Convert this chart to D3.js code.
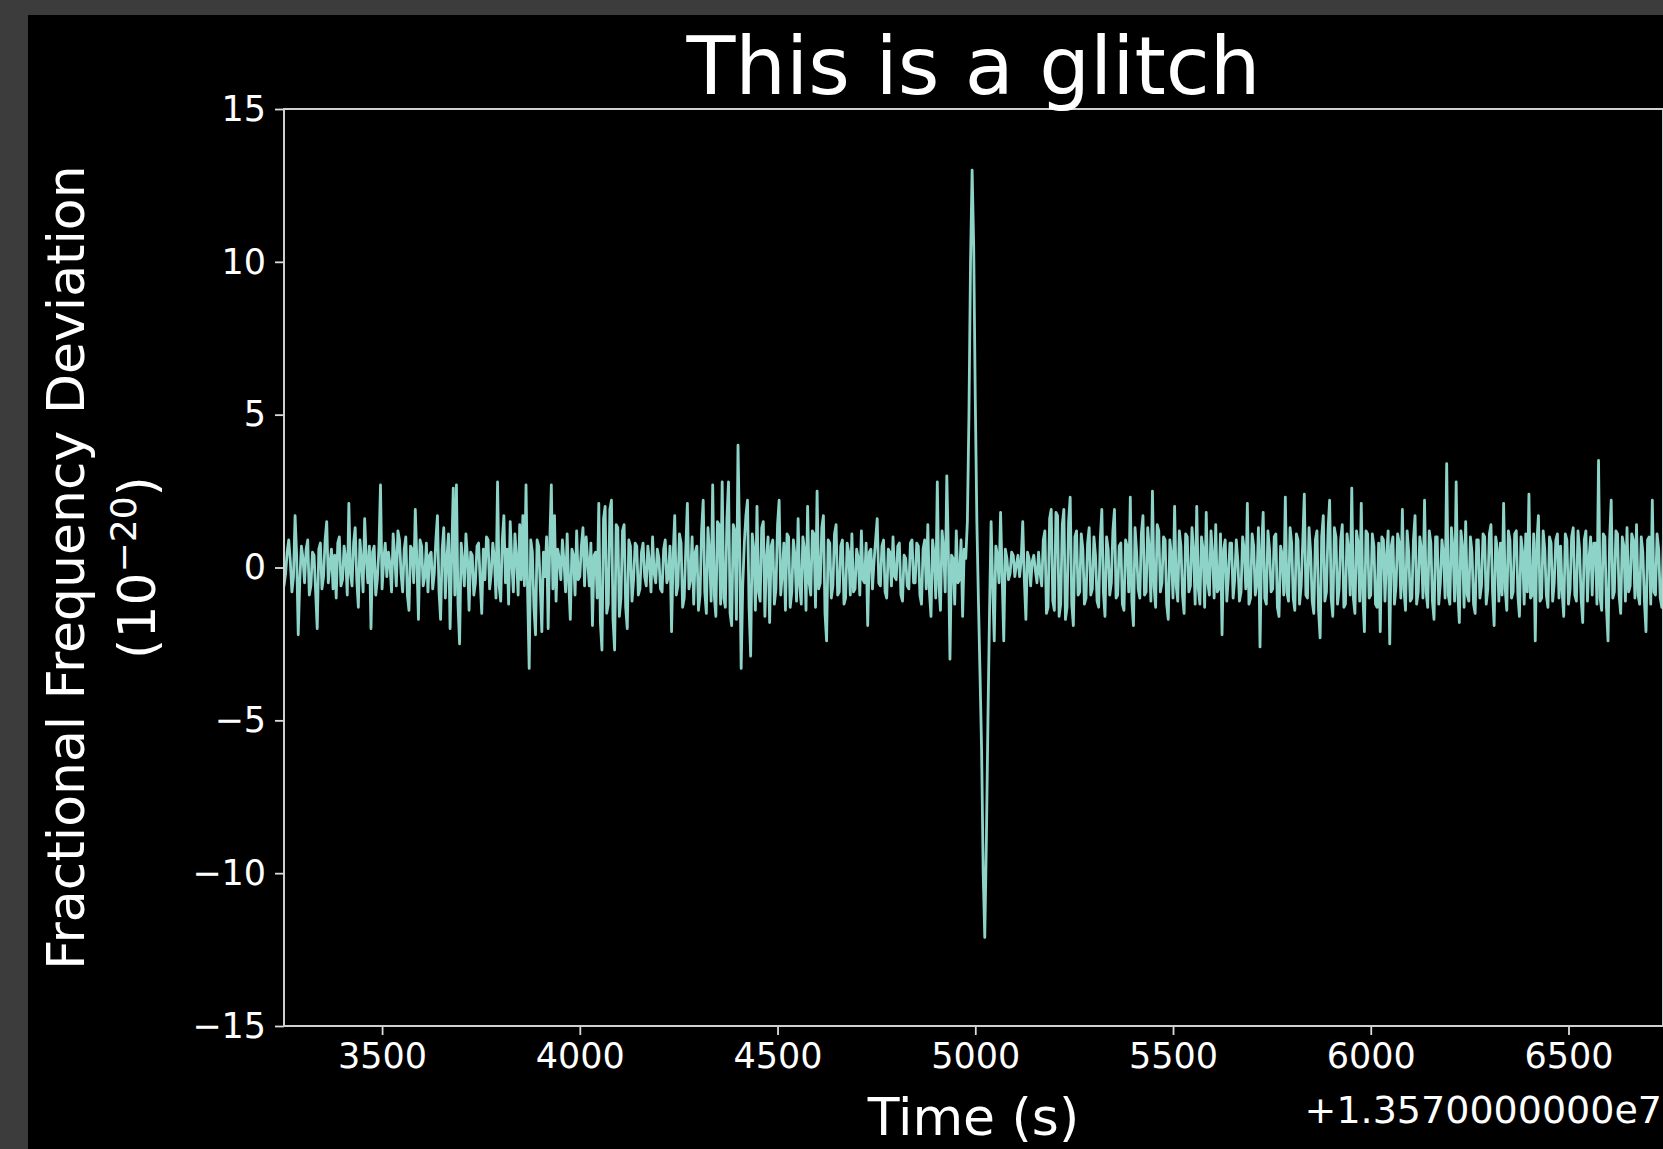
<!DOCTYPE html>
<html>
<head>
<meta charset="utf-8">
<script src="https://cdn.jsdelivr.net/npm/d3@7"></script>
<style>
  body { margin: 0; background: #3c3c3c; overflow: hidden; }
  text { font-family: "DejaVu Sans", sans-serif; fill: #ffffff; }
</style>
</head>
<body>
<svg id="chart" width="1663" height="1149"></svg>
<script>
// time series: first sample time and spacing (s, offset from 1.357e7)
var startTime = 3248;
var sampleStep = 4;

// fractional frequency deviation, units of 1e-20
var deviation = [
  1.6, -0.6, -0.2, 0.5, 0.9, 0.2, -0.8, -0.3, 1.7, 0.4, -2.2, -0.4, 0.7, 0.3, -0.5, 0.6, 0.9, -0.9, -0.6, 0.5,
  0.4, -0.8, -2.0, 0.6, 0.8, -0.7, -0.3, 0.9, 1.5, -0.5, 0.1, 0.6, -0.7, 0.4, -1.0, 0.8, 1.0, -0.6, -0.4, 0.7,
  0.3, -0.9, 2.1, -0.2, -0.6, 0.8, 1.3, -0.4, -1.3, 0.9, 0.2, -0.8, 1.6, 0.3, -0.5, 0.7, -2.0, 0.5, 0.7, -0.9,
  -0.4, 0.6, 2.7, -0.7, 0.2, 0.8, -0.3, 0.5, 0.1, -0.8, 1.1, 0.4, -0.6, 1.2, 0.9, -0.2, -0.8, 0.6, 1.0, -0.9,
  -1.4, 0.7, 0.6, -0.5, 1.9, 0.2, -1.7, 0.9, 0.7, -0.6, -0.3, 0.8, -0.8, 0.4, 0.5, -0.7, -0.2, 0.9, 1.7, -0.8,
  -1.7, 0.6, 1.3, -1.0, 0.3, 1.1, -2.0, 0.4, 2.6, -0.9, 2.7, -1.2, -2.5, 0.8, 0.2, -0.6, 1.1, 0.3, -1.4, 0.5,
  0.4, -0.9, -0.5, 0.7, 0.8, -0.4, -1.5, 0.6, -0.4, 1.0, 0.9, -0.7, -0.2, 0.8, 0.3, -1.0, 2.8, -0.6, -1.1, 0.9,
  1.7, -0.5, 0.6, -1.2, 1.5, 0.2, -0.8, 1.1, 0.3, -0.9, 1.4, -0.4, 1.7, -0.6, 2.7, -0.8, -3.3, 0.9, 0.5, -1.3,
  -2.2, 0.9, 0.7, -0.6, -2.1, 0.5, -0.3, 1.0, -2.0, 0.8, 2.7, -0.7, 1.7, -1.1, 0.6, 0.3, -0.4, 0.9, 0.2, -0.8,
  1.1, -0.5, -1.7, 0.6, 0.4, -0.9, 1.2, -0.4, -0.3, 0.7, 1.3, -0.6, 1.0, 0.2, -0.6, 0.8, -1.9, 0.4, 0.5, -1.0,
  2.1, -1.8, -2.7, 1.6, 2.0, -1.5, -1.2, 1.9, 2.2, -1.7, -2.7, 1.4, 1.3, -1.6, -1.0, 1.2, 1.4, -1.3, -2.0, 0.9,
  0.7, -1.1, -0.4, 0.8, 0.7, -0.9, -0.7, 0.5, 0.8, -0.3, -0.6, 0.7, 0.2, -0.8, 1.0, -0.2, -0.5, 0.6, 0.3, -0.7,
  -0.8, 0.6, 0.9, -0.5, -0.3, 0.7, -2.1, 0.4, 1.7, -0.9, -0.6, 1.1, 0.8, -1.3, -1.0, 0.6, 2.1, -0.7, -0.4, 1.0,
  -1.2, 0.5, 0.7, -1.4, -0.9, 1.2, 2.2, -0.8, -1.5, 1.3, 0.5, -1.1, 2.7, -0.9, -1.6, 1.5, 1.4, -1.2, 2.8, -1.0,
  -1.3, 1.6, 2.8, -1.5, -1.9, 1.4, 1.2, -1.7, 4.0, 0.9, -3.3, -0.6, 0.8, 1.7, 2.2, -1.3, -2.9, 1.1, 0.6, -1.4,
  2.0, -0.8, -1.1, 1.3, 1.5, -1.6, 0.3, 1.0, -1.8, 0.7, 0.9, -1.2, -0.7, 1.4, 2.2, -0.9, -0.2, 0.8, -1.4, 1.1,
  1.0, -1.3, -0.8, 0.9, 0.4, -1.1, 1.6, -0.6, -1.2, 1.0, 0.6, -1.4, 2.0, -0.5, -0.9, 1.2, 1.1, -1.3, 2.5, -0.7,
  -0.5, 1.3, 1.7, -1.5, -2.4, 0.9, 0.8, -1.0, -0.6, 1.1, 1.4, -0.9, -0.8, 0.7, 0.9, -1.2, -1.0, 0.8, 0.5, -0.9,
  1.1, -0.8, -0.7, 0.6, 0.3, -0.9, 1.2, -0.4, -0.5, 0.8, -1.9, 0.5, 0.6, -0.7, 0.2, 0.9, 1.6, -0.5, -0.6, 0.7,
  0.9, -0.8, -1.0, 0.6, 0.5, -0.6, 1.0, -0.3, -0.4, 0.7, 0.8, -0.9, -1.1, 0.4, 0.3, -0.6, -0.7, 0.8, 0.9, -0.5,
  -0.5, 0.8, 0.7, -0.9, -1.2, 0.6, 0.9, -0.7, 1.4, -0.8, -1.6, 0.9, 0.4, -1.0, 2.8, -0.6, -1.4, 1.2, 0.6, -0.8,
  3.0, 0.5, -3.0, 0.4, 0.3, -1.2, 1.2, -0.5, -0.4, 0.9, -1.6, 0.6, 0.3, 1.5, 5.0, 10.0, 13.0, 10.5, 5.5, 1.5,
  -1.1, -3.5, -6.0, -10.0, -12.1, -9.0, -5.0, -1.5, 1.5, -0.6, -2.4, 0.7, 0.4, -0.5, 1.8, -0.3, -2.4, 0.6, 0.3, -0.4,
  -0.2, 0.5, 0.4, -0.3, 0.1, 0.4, -0.3, 0.2, 1.5, -0.4, -1.7, 0.5, 0.3, -0.6, 0.2, 0.4, -0.1, -0.5, 0.5, -0.2,
  -0.6, 0.9, 1.2, -1.5, -1.3, 1.6, 1.9, -1.1, -1.4, 1.8, 1.7, -1.6, -1.2, 1.4, 1.9, -1.7, -1.3, 1.5, 2.3, -1.2,
  -1.9, 1.0, 1.2, -0.9, -0.8, 1.1, 0.6, -1.2, -1.0, 0.8, 1.3, -0.9, -0.7, 1.0, 0.4, -1.1, -1.3, 0.9, 1.9, -0.8,
  -1.6, 1.0, 0.6, -0.9, -0.5, 1.2, 1.9, -1.0, -0.9, 0.7, 0.8, -1.2, -1.4, 0.9, 0.7, -0.8, 2.3, -1.1, -1.9, 1.3,
  0.5, -0.7, -1.0, 1.1, 1.7, -0.9, -0.8, 1.3, 0.6, -1.1, 2.5, -0.6, -1.3, 1.4, 1.2, -0.8, -0.5, 1.0, 0.9, -1.2,
  -1.7, 0.9, 0.4, -1.0, 2.0, -0.6, -1.1, 1.2, 0.7, -0.9, -1.5, 1.1, 1.0, -0.8, -0.6, 1.3, 0.5, -1.2, 2.0, -0.7,
  -1.2, 1.0, 0.6, -1.3, 1.8, -0.5, -0.9, 1.2, 0.4, -1.0, 1.4, -0.8, -0.7, 1.1, -2.2, 0.6, 0.9, -1.1, -0.3, 0.8,
  0.8, -1.0, -0.4, 0.9, 0.2, -1.1, -0.8, 1.0, 0.6, -0.7, 2.1, -1.2, -1.0, 1.1, 0.7, -0.9, -0.5, 1.3, -2.6, 0.6,
  1.8, -1.0, -1.2, 1.2, 0.6, -0.8, -0.7, 1.0, 1.1, -1.3, -1.6, 0.7, 0.4, -0.9, 2.3, -0.8, -1.1, 1.3, 0.8, -1.0,
  -1.4, 1.1, 0.9, -1.2, -0.6, 0.8, 2.4, -0.9, -1.0, 1.3, 0.5, -1.1, -1.5, 0.9, 1.2, -1.4, -2.3, 1.0, 1.7, -1.1,
  -0.8, 1.2, 2.2, -1.0, -1.6, 1.3, 1.0, -1.2, -0.7, 0.9, 1.4, -1.3, -1.2, 1.1, 0.6, -0.9, 2.6, -1.0, -1.5, 1.2,
  0.8, -1.1, 2.1, -0.9, -2.1, 1.2, 1.1, -1.0, -0.9, 1.1, 0.7, -1.2, -1.3, 0.8, -2.1, 1.0, 0.9, -1.1, 0.4, 1.2,
  -2.5, 0.7, 1.0, -1.2, -0.6, 1.1, 0.8, -1.0, 1.9, -0.7, -1.4, 1.2, 0.5, -1.1, -1.0, 0.9, 1.7, -1.2, -0.8, 1.0,
  0.6, -1.0, 2.2, -0.8, -1.3, 1.2, 0.8, -1.1, -1.7, 1.0, 1.0, -1.2, -0.5, 0.9, 0.4, -1.0, 3.4, -0.9, -1.2, 1.3,
  0.6, -1.1, 2.8, -0.8, -1.8, 1.2, 0.7, -1.3, 1.5, -0.9, -1.1, 1.0, 0.5, -1.2, -1.5, 0.9, 0.9, -1.0, -0.6, 1.1,
  1.0, -1.2, -0.7, 1.1, 1.4, -0.8, -1.9, 1.0, 0.6, -1.1, 0.8, -0.9, 2.1, -0.7, -1.4, 1.2, 0.9, -1.0, -0.8, 1.1,
  1.2, -0.9, -1.6, 1.0, 0.5, -1.2, 1.1, -0.8, 2.4, -1.0, -0.9, 1.1, -2.4, 0.8, 1.7, -1.1, -1.0, 1.2, 0.6, -0.9,
  -1.3, 1.0, 0.8, -1.1, -0.5, 0.9, 1.1, -1.0, 0.7, -0.8, -1.6, 1.1, 0.9, -1.2, -0.7, 1.0, 1.3, -0.9, -1.1, 1.2,
  0.6, -1.0, -1.8, 0.9, 1.2, -1.1, 0.3, 1.0, -0.9, 0.8, 0.8, -1.2, 3.5, -1.0, -1.4, 1.1, 1.0, -1.3, -2.4, 0.9,
  2.2, -1.0, -0.8, 1.2, 1.1, -0.9, -1.5, 1.0, 0.7, -1.1, 1.3, -0.8, -0.6, 1.1, 0.9, -1.0, 1.4, -0.9, -1.2, 1.0,
  0.5, -1.1, -2.1, 0.9, 1.0, -1.2, 2.2, -0.8, -0.9, 1.1, 0.6, -1.0, -1.3, 0.9, 0.8, -1.1
];

var xTicks = [3500, 4000, 4500, 5000, 5500, 6000, 6500];
var yTicks = [-15, -10, -5, 0, 5, 10, 15];
var xDomain = [3252, 6739];
var yDomain = [-15, 15];

var titleText = "This is a glitch";
var xLabel = "Time (s)";
var yLabel = "Fractional Frequency Deviation";
var offsetText = "+1.3570000000e7";

var points = deviation.map(function (v, i) {
  return { t: startTime + i * sampleStep, v: v };
});

const svg = d3.select("#chart");
var plotLeft = 284, plotRight = 1663, plotTop = 109, plotBottom = 1026;

// black figure area on the grey backdrop
svg.append("rect")
  .attr("x", 28).attr("y", 15)
  .attr("width", 1663 - 28).attr("height", 1149 - 15)
  .attr("fill", "#000000");

var x = d3.scaleLinear().domain(xDomain).range([plotLeft, plotRight]);
var y = d3.scaleLinear().domain(yDomain).range([plotBottom, plotTop]);

svg.append("clipPath").attr("id", "plotClip")
  .append("rect")
  .attr("x", plotLeft).attr("y", plotTop)
  .attr("width", plotRight - plotLeft).attr("height", plotBottom - plotTop);

var line = d3.line()
  .x(function (d) { return x(d.t); })
  .y(function (d) { return y(d.v); });

svg.append("path")
  .datum(points)
  .attr("clip-path", "url(#plotClip)")
  .attr("fill", "none")
  .attr("stroke", "#8dd3c7")
  .attr("stroke-width", 2.8)
  .attr("stroke-linejoin", "round")
  .attr("d", line);

// axes
var xAxis = svg.append("g")
  .attr("transform", "translate(0," + plotBottom + ")")
  .call(d3.axisBottom(x).tickValues(xTicks).tickFormat(d3.format("d")).tickSize(9).tickPadding(8));
var yAxis = svg.append("g")
  .attr("transform", "translate(" + plotLeft + ",0)")
  .call(d3.axisLeft(y).tickValues(yTicks).tickFormat(d3.format("d")).tickSize(9).tickPadding(9));

[xAxis, yAxis].forEach(function (g) {
  g.select(".domain").remove();
  g.selectAll(".tick line").attr("stroke", "#dcdcdc").attr("stroke-width", 1.8);
  g.selectAll(".tick text")
    .attr("fill", "#f0f0f0")
    .style("font-family", "DejaVu Sans")
    .style("font-size", "35px");
});
xAxis.selectAll(".tick text").attr("dy", "0.71em");

// spines
svg.append("rect")
  .attr("x", plotLeft).attr("y", plotTop)
  .attr("width", plotRight - plotLeft).attr("height", plotBottom - plotTop)
  .attr("fill", "none")
  .attr("stroke", "#d0d0d0")
  .attr("stroke-width", 2);

// title
svg.append("text")
  .attr("x", (plotLeft + plotRight) / 2).attr("y", 94)
  .attr("text-anchor", "middle")
  .style("font-size", "80px")
  .text(titleText);

// x label + offset text
svg.append("text")
  .attr("x", (plotLeft + plotRight) / 2).attr("y", 1135)
  .attr("text-anchor", "middle")
  .style("font-size", "52px")
  .text(xLabel);
svg.append("text")
  .attr("x", 1662).attr("y", 1123)
  .attr("text-anchor", "end")
  .style("font-size", "38px")
  .text(offsetText);

// y label, two lines, rotated
var midY = (plotTop + plotBottom) / 2;
svg.append("text")
  .attr("transform", "translate(84," + midY + ") rotate(-90)")
  .attr("text-anchor", "middle")
  .style("font-size", "52px")
  .text(yLabel);
var unit = svg.append("text")
  .attr("transform", "translate(155," + midY + ") rotate(-90)")
  .attr("text-anchor", "middle")
  .style("font-size", "52px");
unit.append("tspan").text("(10");
unit.append("tspan").attr("dy", -19).style("font-size", "36px").text("\u221220");
unit.append("tspan").attr("dy", 19).text(")");
</script>
</body>
</html>
